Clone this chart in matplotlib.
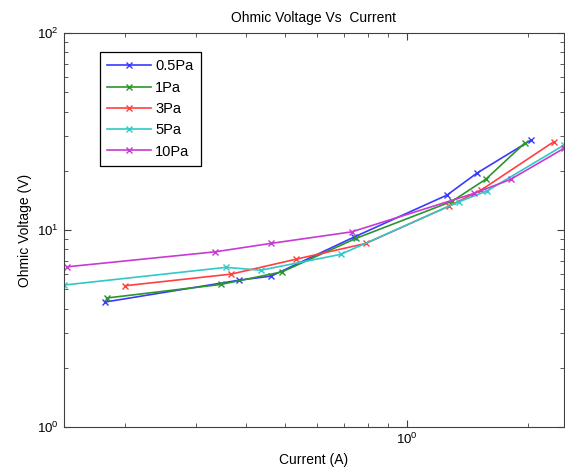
import numpy as np
import matplotlib.pyplot as plt
from matplotlib.ticker import LogLocator, NullFormatter

plt.rcParams['font.family'] = ['Liberation Sans', 'DejaVu Sans']

# current (A) and ohmic voltage (V) for each pressure
current05 = [0.178, 0.384, 0.461, 0.740, 1.26, 1.495, 2.035]
volt05 = [4.31, 5.57, 5.84, 9.21, 15.06, 19.47, 28.6]

current1 = [0.180, 0.346, 0.491, 0.749, 1.296, 1.574, 1.967]
volt1 = [4.52, 5.30, 6.14, 9.08, 14.0, 18.15, 27.7]

current3 = [0.200, 0.367, 0.532, 0.793, 1.274, 1.53, 2.32]
volt3 = [5.22, 5.98, 7.12, 8.56, 13.24, 15.96, 28.1]

current5 = [0.141, 0.356, 0.435, 0.686, 1.349, 1.586, 2.458]
volt5 = [5.26, 6.47, 6.26, 7.53, 13.93, 15.83, 27.0]

current10 = [0.1434, 0.335, 0.460, 0.731, 1.47, 1.812, 2.458]
volt10 = [6.51, 7.76, 8.56, 9.80, 15.36, 18.09, 26.0]

labels = ['0.5Pa', '1Pa', '3Pa', '5Pa', '10Pa']
colors = ['#3a3aff', '#2a962a', '#ff4040', '#30c8c8', '#c83ad2']

fig = plt.figure(figsize=(5.65, 4.74), dpi=100)
ax = fig.add_axes([0.113, 0.099, 0.885, 0.831])

series = [(current05, volt05), (current1, volt1), (current3, volt3),
          (current5, volt5), (current10, volt10)]
for (x, y), lab, col in zip(series, labels, colors):
    ax.plot(x, y, color=col, marker='x', markersize=5, linewidth=1.2,
            markeredgewidth=1.0, label=lab)

ax.set_xscale('log')
ax.set_yscale('log')
ax.set_xlim(0.141, 2.458)
ax.set_ylim(1, 100)

ax.xaxis.set_minor_locator(LogLocator(base=10, subs=np.arange(2, 10)))
ax.xaxis.set_minor_formatter(NullFormatter())
ax.yaxis.set_minor_locator(LogLocator(base=10, subs=np.arange(2, 10)))
ax.yaxis.set_minor_formatter(NullFormatter())
ax.tick_params(which='both', direction='in', top=True, right=True,
               labelsize=9.5, color='#404040')
ax.tick_params(which='major', length=5)
ax.tick_params(which='minor', length=3)
for sp in ax.spines.values():
    sp.set_color('#404040')

ax.set_title('Ohmic Voltage Vs  Current', fontsize=10, pad=8)
ax.set_xlabel('Current (A)', fontsize=10, labelpad=4)
ax.set_ylabel('Ohmic Voltage (V)', fontsize=10)

leg = ax.legend(loc='upper left', bbox_to_anchor=(0.072, 0.952), fontsize=10.5,
                fancybox=False, framealpha=1, edgecolor='black',
                handlelength=3.0, handletextpad=0.3, borderpad=0.5,
                labelspacing=0.5, borderaxespad=0)
leg.get_frame().set_linewidth(0.9)

fig.savefig('out.png', dpi=100)
